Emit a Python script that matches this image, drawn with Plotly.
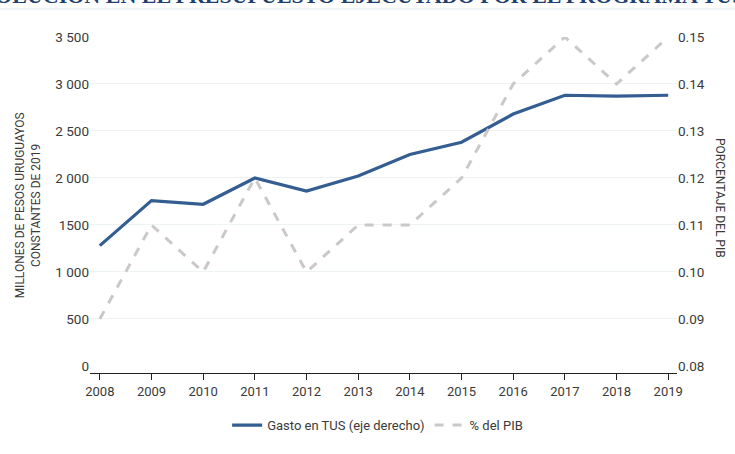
import plotly.graph_objects as go

years = [2008, 2009, 2010, 2011, 2012, 2013, 2014, 2015, 2016, 2017, 2018, 2019]
gasto_tus = [1280, 1760, 1720, 2000, 1860, 2020, 2250, 2380, 2680, 2880, 2870, 2880]
pct_pib = [0.09, 0.11, 0.10, 0.12, 0.10, 0.11, 0.11, 0.12, 0.14, 0.15, 0.14, 0.15]
left_ticks = [0, 500, 1000, 1500, 2000, 2500, 3000, 3500]
left_labels = ["0", "500", "1 000", "1500", "2 000", "2 500", "3 000", "3 500"]
right_ticks = [0.08, 0.09, 0.10, 0.11, 0.12, 0.13, 0.14, 0.15]
grid_vals = [500, 1000, 1500, 2000, 2500, 3000]

FONT = "Roboto, Liberation Sans Narrow, sans-serif"
TXT = "#3a3a3a"
BLUE = "#345d92"
GREY = "#c9c9c9"

fig = go.Figure()
fig.add_trace(go.Scatter(x=[None], y=[None], yaxis="y3", showlegend=False, hoverinfo="skip"))
fig.add_trace(go.Scatter(
    x=years, y=gasto_tus, name="Gasto en TUS (eje derecho)", mode="lines",
    line=dict(color=BLUE, width=3.2), yaxis="y"))
fig.add_trace(go.Scatter(
    x=years, y=pct_pib, name="% del PIB", mode="lines",
    line=dict(color=GREY, width=3, dash="dash"), yaxis="y2"))

fig.update_layout(
    width=735, height=454,
    margin=dict(l=90, r=58, t=37, b=81),
    paper_bgcolor="white", plot_bgcolor="rgba(0,0,0,0)",
    font=dict(family=FONT, size=13, color=TXT),
    showlegend=True,
    legend=dict(orientation="h", x=0.49, xanchor="center", y=-0.155, yanchor="middle",
                font=dict(size=13, color=TXT), tracegroupgap=0),
    xaxis=dict(range=[2007.81, 2019.17], tickvals=years, ticktext=[str(y) for y in years],
               showgrid=False, zeroline=False, showline=True, linecolor="#222", linewidth=1.2,
               ticks="outside", ticklen=6, tickcolor="#222", tickfont=dict(size=13, color=TXT)),
    yaxis=dict(range=[-75, 3500], tickvals=left_ticks, ticktext=left_labels, showgrid=False,
               zeroline=False, showline=False, ticks="", tickfont=dict(size=13.5, color=TXT)),
    yaxis2=dict(range=[0.07851, 0.15], tickvals=right_ticks,
                ticktext=["%.2f" % v for v in right_ticks], overlaying="y", side="right",
                showgrid=False, zeroline=False, showline=False, ticks="",
                tickfont=dict(size=13.5, color=TXT)),
    yaxis3=dict(range=[-75, 3500], tickvals=grid_vals, overlaying="y", showgrid=True,
                gridcolor="#edf2f2", gridwidth=1, showticklabels=False, zeroline=False),
)

fig.add_annotation(text="MILLONES DE PESOS URUGUAYOS<br>CONSTANTES DE 2019", xref="paper", yref="paper",
                   x=-0.105, y=0.5, textangle=-90, showarrow=False,
                   font=dict(size=12, color=TXT, family=FONT), xanchor="center", yanchor="middle")
fig.add_annotation(text="PORCENTAJE DEL PIB", xref="paper", yref="paper",
                   x=1.072, y=0.52, textangle=90, showarrow=False,
                   font=dict(size=12, color=TXT, family=FONT), xanchor="center", yanchor="middle")
fig.add_annotation(text="<b>EVOLUCIÓN EN EL PRESUPUESTO EJECUTADO POR EL PROGRAMA TUS</b>",
                   xref="paper", yref="paper", x=-0.216, y=1.0, yshift=42,
                   xanchor="left", yanchor="middle", showarrow=False,
                   font=dict(size=22, color="#1f3f6e", family="Liberation Serif, DejaVu Serif, serif"))
fig.add_shape(type="line", xref="paper", yref="paper", x0=-0.2, x1=1.2,
              y0=1 + 28 / 336, y1=1 + 28 / 336, line=dict(color="#e1e9ec", width=1))

fig.write_html("out.html", config={"displayModeBar": False},
               post_script="document.body.style.margin='0px';")
